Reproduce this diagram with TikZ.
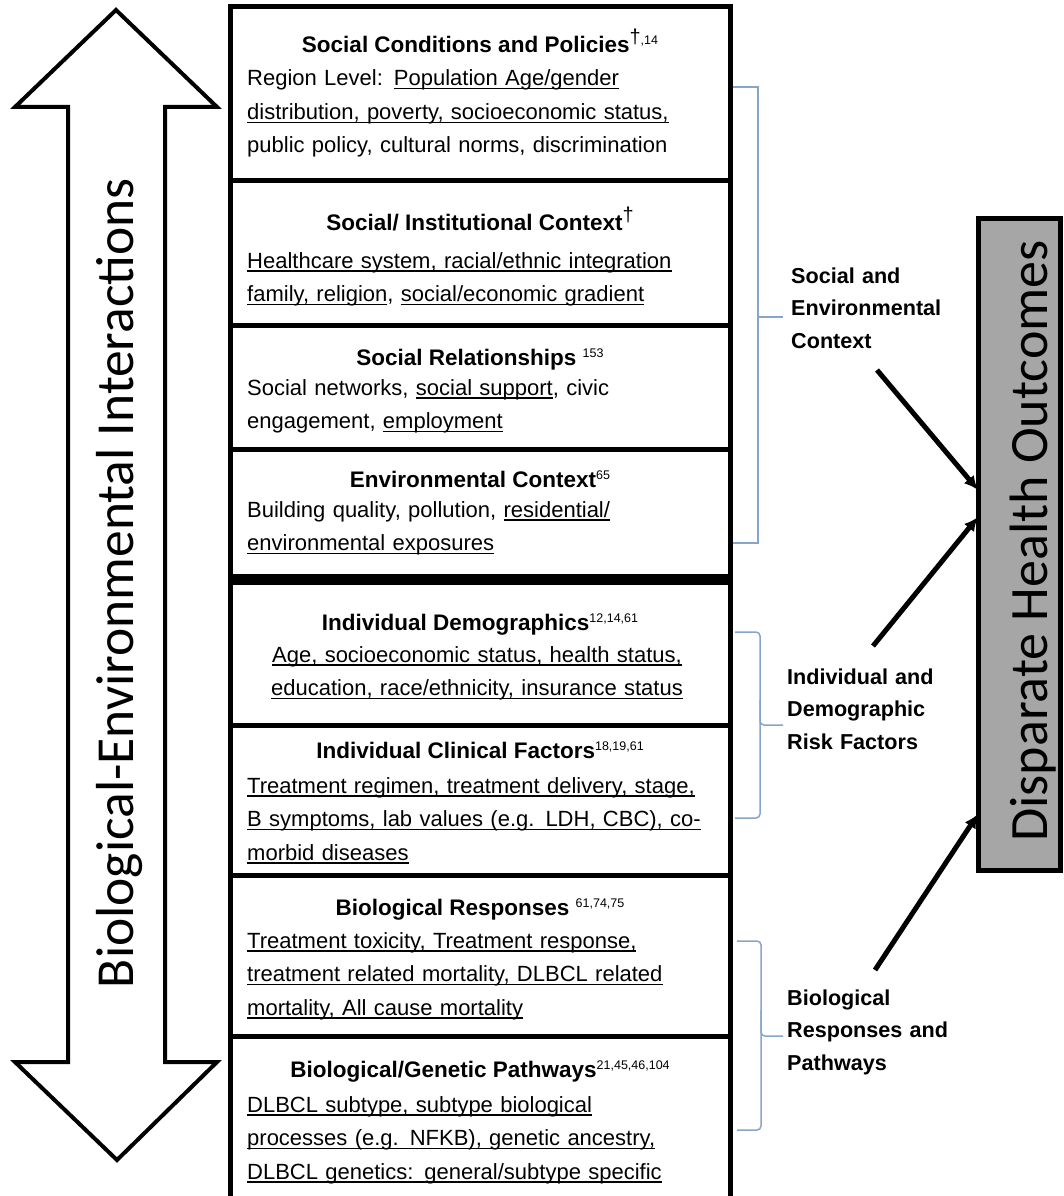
\documentclass[tikz,border=0pt]{standalone}
\usepackage{fontspec}
\setmainfont{Liberation Sans}
\newfontfamily\calibri{Carlito}
\usetikzlibrary{shapes.geometric, arrows.meta}
\definecolor{outgray}{RGB}{166,166,166}
\definecolor{bracketblue}{RGB}{135,165,200}
\newsavebox\ulbox
\newcommand{\uln}[1]{\leavevmode\sbox\ulbox{#1}\rlap{\rule[-3.5pt]{\wd\ulbox}{1.2pt}}\usebox\ulbox}
\newcommand{\refsup}[1]{\raisebox{8pt}{\mdseries\fontsize{12.5}{12}\selectfont #1}}
\newcommand{\dagsup}{\raisebox{9pt}{\mdseries\fontsize{20}{20}\selectfont †}}
\tikzstyle{rowbox} = [rectangle, draw=black, line width=5pt, minimum width=500pt, anchor=north west, inner sep=0pt, outer sep=0pt]
\tikzstyle{title} = [anchor=base, inner sep=0pt, font=\bfseries\fontsize{22.5}{27}\selectfont]
\tikzstyle{body} = [anchor=base west, inner sep=0pt, text width=475pt, align=left, font=\fontsize{22}{33.5}\selectfont]
\tikzstyle{grouptext} = [anchor=base west, inner sep=0pt, text width=200pt, align=left, font=\bfseries\fontsize{21.6}{32.5}\selectfont]
\tikzstyle{sidetext} = [rotate=90, anchor=base, inner sep=0pt, font=\calibri\fontsize{53.5}{53.5}\selectfont]
\tikzstyle{outbox} = [rectangle, draw=black, line width=5pt, fill=outgray, minimum width=82pt, minimum height=652pt, inner sep=0pt, outer sep=0pt]
\tikzstyle{bracket} = [draw=bracketblue, line width=1.5pt]
\tikzstyle{edge} = [line width=5pt, -{Latex[length=14pt, width=13pt]}]

\begin{document}
\begin{tikzpicture}[x=1pt, y=-1pt]
\useasboundingbox (0,0) rectangle (1064,1196);

% double arrow on the left
\draw[line width=4pt] (116,10) -- (217,107) -- (165,107) -- (165,1062) -- (217,1062) -- (117,1160)
  -- (15,1062) -- (68,1062) -- (68,107) -- (15,107) -- cycle;
\node (bioenv) [sidetext] at (133,583) {Biological-Environmental Interactions};

% stacked factor boxes
\node (r1) [rowbox, minimum height=173pt] at (230,7) {};
\node (r2) [rowbox, minimum height=145pt] at (230,180) {};
\node (r3) [rowbox, minimum height=124pt] at (230,325) {};
\node (r4) [rowbox, minimum height=130pt] at (230,449) {};
\node (r5) [rowbox, minimum height=146pt] at (230,579) {};
\node (r6) [rowbox, minimum height=150pt] at (230,725) {};
\node (r7) [rowbox, minimum height=161pt] at (230,875) {};
\node (r8) [rowbox, minimum height=174pt] at (230,1036) {};
\draw [line width=11pt] (r4.south west) -- (r4.south east);

\node (t1) [title] at (480,53) {Social Conditions and Policies\dagsup\refsup{,14}};
\node (b1) [body] at (247,86) {Region Level: \uln{Population Age/gender}\\
  \uln{distribution, poverty, socioeconomic status,}\\
  public policy, cultural norms, discrimination};
\node (t2) [title] at (480,230) {Social/ Institutional Context\dagsup};
\node (b2) [body] at (247,268) {\uln{Healthcare system, racial/ethnic integration}\\
  \uln{family, religion}, \uln{social/economic gradient}};
\node (t3) [title] at (480,365) {Social Relationships \refsup{153}};
\node (b3) [body] at (247,395) {Social networks, \uln{social support}, civic\\
  engagement, \uln{employment}};
\node (t4) [title] at (480,487) {Environmental Context\refsup{65}};
\node (b4) [body] at (247,517) {Building quality, pollution, \uln{residential/}\\
  \uln{environmental exposures}};
\node (t5) [title] at (480,630) {Individual Demographics\refsup{12,14,61}};
\node (b5) [body, anchor=base, align=center] at (477,662) {\uln{Age, socioeconomic status, health status,}\\
  \uln{education, race/ethnicity, insurance status}};
\node (t6) [title] at (480,758) {Individual Clinical Factors\refsup{18,19,61}};
\node (b6) [body] at (247,793) {\uln{Treatment regimen, treatment delivery, stage,}\\
  \uln{B symptoms, lab values (e.g. LDH, CBC), co-}\\
  \uln{morbid diseases}};
\node (t7) [title] at (480,915) {Biological Responses \refsup{61,74,75}};
\node (b7) [body] at (247,948) {\uln{Treatment toxicity, Treatment response,}\\
  \uln{treatment related mortality, DLBCL related}\\
  \uln{mortality, All cause mortality}};
\node (t8) [title] at (480,1077) {Biological/Genetic Pathways\refsup{21,45,46,104}};
\node (b8) [body] at (247,1112) {\uln{DLBCL subtype, subtype biological}\\
  \uln{processes (e.g. NFKB), genetic ancestry,}\\
  \uln{DLBCL genetics: general/subtype specific}};

% brackets and group labels
\draw [bracket] (733,87) -- (758,87) -- (758,543) -- (733,543);
\draw [bracket] (758,317) -- (783,317);
\draw [bracket, rounded corners=4pt] (735,632) -- (760,632) -- (760,725) -- (783,725);
\draw [bracket, rounded corners=4pt] (760,700) -- (760,818) -- (735,818);
\draw [bracket, rounded corners=4pt] (737,941) -- (761,941) -- (761,1036) -- (783,1036);
\draw [bracket, rounded corners=4pt] (761,1010) -- (761,1130) -- (737,1130);
\node (g1) [grouptext] at (791,283) {Social and\\Environmental\\Context};
\node (g2) [grouptext] at (787,684) {Individual and\\Demographic\\Risk Factors};
\node (g3) [grouptext] at (787,1005) {Biological\\Responses and\\Pathways};

% outcome box
\node (outcome) [outbox] at (1019,544) {};
\node (outtext) [sidetext, font=\calibri\fontsize{54}{54}\selectfont] at (1047,541) {Disparate Health Outcomes};

\coordinate (s1) at (877,370);
\coordinate (s2) at (873,646);
\coordinate (s3) at (875,970);
\draw [edge] (s1) -- ([yshift=54pt]outcome.west);
\draw [edge] (s2) -- ([yshift=27pt]outcome.west);
\draw [edge] (s3) -- ([yshift=-270pt]outcome.west);

\end{tikzpicture}
\end{document}
